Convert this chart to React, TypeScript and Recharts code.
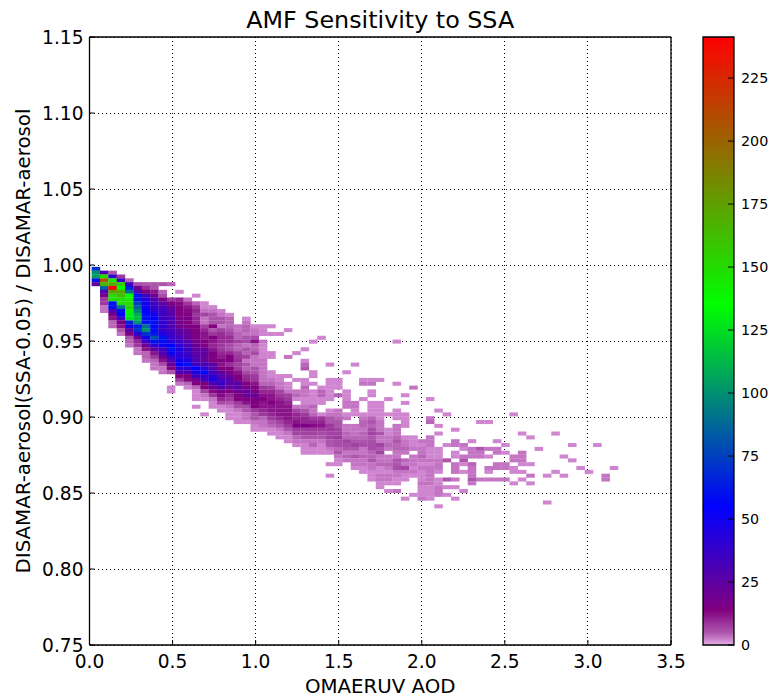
import { CartesianGrid, ReferenceArea, Scatter, ScatterChart, XAxis, YAxis } from "recharts";

const FONT = "'DejaVu Sans', sans-serif";
const WIDTH = 770;
const HEIGHT = 697;
const leftW = 89.5;
const rightW = 99;
const topH = 37;
const bottomH = 52;

const xTicks = [0, 0.5, 1, 1.5, 2, 2.5, 3, 3.5];
const yTicks = [0.75, 0.8, 0.85, 0.9, 0.95, 1, 1.05, 1.1, 1.15];
const colorbarTicks = [0, 25, 50, 75, 100, 125, 150, 175, 200, 225];
const colorbarMax = 241.3;

// histogram bins
const binWidth = 0.0503;
const binHeight = 0.00252;
const firstBinX = 0.0129;
const firstBinTop = 0.9988;

// per column: runs of [first row, count, count, ...]
const binRuns: number[][][] = [
  [[0, 70, 100, 105, 60, 25]],
  [[1, 30, 150, 205, 165, 85, 30, 18, 8, 8, 3, 3]],
  [[1, 5, 40, 145, 170, 240, 175, 150, 150, 60, 60, 30, 15, 12, 4, 4]],
  [[2, 8, 35, 155, 135, 170, 165, 150, 150, 90, 60, 55, 35, 15, 12, 5, 3]],
  [[3, 4, 35, 65, 90, 135, 145, 150, 155, 140, 130, 125, 65, 45, 25, 15, 5, 4, 3]],
  [[4, 6, 20, 30, 60, 60, 75, 85, 95, 110, 115, 100, 65, 70, 40, 20, 10, 8, 3, 3]],
  [[4, 5, 9, 15, 35, 45, 50, 50, 55, 58, 60, 60, 90, 100, 70, 50, 35, 20, 12, 4, 4, 3]],
  [[4, 5, 5, 12, 20, 30, 35, 38, 42, 50, 55, 60, 58, 60, 62, 80, 60, 40, 25, 12, 8, 4, 3, 3]],
  [[4, 5], [6, 4, 6, 15, 25, 30, 35, 35, 35, 40, 40, 38, 45, 60, 60, 50, 35, 30, 20, 12, 6, 3, 3]],
  [[4, 4], [8, 8, 15, 22, 25, 28, 32, 30, 30, 32, 36, 38, 42, 55, 60, 50, 40, 30, 22, 14, 5], [31, 2, 2]],
  [[6, 2], [8, 10, 13, 14, 14, 14, 16, 18, 20, 25, 28, 32, 35, 40, 45, 42, 42, 50, 55, 40, 30, 14, 8, 3]],
  [[8, 3, 8, 12, 13, 14, 16, 14, 15, 20, 22, 22, 28, 32, 35, 35, 38, 45, 60, 42, 30, 15, 13, 4, 2]],
  [[7, 2], [9, 4, 8, 10, 8, 10, 10, 14, 14, 15, 16, 18, 22, 24, 26, 28, 30, 35, 55, 45, 35, 18, 14, 4, 2, 2, 2], [36, 2]],
  [[9, 2, 2, 3, 7, 3, 3, 7, 10, 12, 12, 14, 14, 22, 24, 22, 24, 30, 40, 58, 38, 32, 15, 14, 7, 3, 2], [38, 2]],
  [[10, 2, 3, 5, 5, 5, 14, 5, 8, 14, 12, 10, 12, 15, 15, 14, 25, 28, 32, 40, 45, 30, 20, 13, 8, 3, 2, 2]],
  [[11, 2, 3, 5, 5, 3, 7, 9, 10, 9, 8, 8, 10, 11, 14, 12, 14, 24, 28, 32, 38, 28, 18, 13, 10, 6, 2, 2]],
  [[12, 2, 4, 4, 4, 5, 7, 9, 9, 6, 6, 10, 14, 15, 9, 14, 15, 22, 28, 26, 22, 14, 10, 8, 5, 3, 2, 2, 2]],
  [[15, 3, 3, 4, 4, 7, 4, 4, 7, 8, 9, 7, 8, 12, 14, 16, 28, 26, 20, 14, 14, 8, 6, 3, 2, 2, 2]],
  [[13, 2, 3, 4, 4, 3, 5, 6, 3, 5, 4, 7, 3, 5, 4, 6, 9, 10, 14, 18, 22, 22, 14, 12, 6, 5, 3, 3, 2]],
  [[15, 2, 3, 3, 6, 12, 4, 4, 6, 3, 3, 3, 5, 5, 8, 8, 12, 14, 16, 22, 16, 14, 14, 8, 5, 5, 3, 2, 2]],
  [[15, 2, 2, 2], [19, 3, 2, 2, 2, 2, 3, 3, 3, 3, 3, 3, 4, 8, 10, 12, 14, 12, 12, 10, 8, 4, 3, 3, 2]],
  [[15, 2], [17, 2], [22, 2, 2], [27, 2, 2, 3, 4, 7, 10, 12, 12, 14, 12, 12, 10, 8, 5, 4, 2, 2]],
  [[17, 2], [28, 2, 2, 3, 3, 7, 8, 10, 12, 12, 12, 12, 10, 7, 5, 3, 2, 2]],
  [[16, 2], [23, 3], [28, 2], [30, 2, 2, 3, 7, 8, 10, 12, 12, 12, 12, 10, 8, 5, 3, 2, 2]],
  [[22, 2], [29, 2], [32, 3, 4, 2], [36, 3, 7, 10, 10, 12, 15, 8, 7, 4, 3, 2]],
  [[21, 2], [24, 2, 4, 5], [29, 2, 2, 4, 3, 3, 2, 2, 3, 5, 8, 10, 10, 16, 8, 7, 5, 3, 2, 2, 2]],
  [[19, 2], [27, 2, 2], [30, 2], [32, 2, 2, 2, 2, 4, 3, 4, 8, 10, 13, 8, 7, 5, 3, 4, 2, 2]],
  [[18, 2], [31, 2, 4, 4, 2, 2], [38, 2, 8, 10, 12, 8, 6, 5, 3, 2, 2, 2]],
  [[25, 2], [29, 2, 2, 2, 2, 2, 2], [37, 2, 3, 5, 5, 8, 8, 7, 7, 5, 5, 3, 2], [51, 2], [54, 2]],
  [[29, 2, 2, 2], [33, 4], [37, 3, 3, 4, 5, 5, 7, 7, 8, 6, 6, 4, 5, 3, 2, 2]],
  [[27, 2], [32, 2, 2, 2, 3, 3], [38, 2, 3], [41, 3, 3, 4, 4, 7, 6, 5, 3, 4, 3]],
  [[25, 2], [35, 3, 3, 2, 2], [41, 3, 3, 3, 4, 5, 7, 5, 3, 5, 3, 3, 2]],
  [[29, 2, 3], [34, 2], [38, 2, 3, 4, 4, 3, 4, 4, 5, 6, 3, 3, 4, 3, 3, 2, 2]],
  [[29, 2, 3], [32, 2, 2], [35, 2, 2, 2, 2, 4, 5, 4, 6, 7, 5, 6, 6, 6, 4, 4, 5, 3, 3, 2, 2], [55, 2]],
  [[29, 2], [35, 2, 2, 2, 2, 2, 3, 3, 3, 5, 3, 3, 7, 5, 7, 3, 3, 4, 2, 2, 3, 3, 2, 2]],
  [[34, 2], [38, 2], [42, 2, 2, 3, 3, 4, 3], [49, 3, 3, 4, 3, 2, 3, 3, 2], [58, 2]],
  [[19, 2], [30, 2], [37, 2, 2, 2], [41, 3, 3, 3, 4, 5, 4, 4, 3, 3, 5, 5, 6, 3, 3, 2, 2], [58, 3]],
  [[33, 2], [35, 2], [38, 2, 2, 2, 2], [44, 2, 3, 3, 4, 3], [50, 4, 3, 7, 3, 2, 2], [60, 2]],
  [[31, 3], [44, 2, 2, 2, 3], [49, 3, 3, 3, 2, 3, 2], [59, 2]],
  [[45, 3, 2, 3, 3, 4, 3, 2, 3, 2, 2, 2, 3, 2, 2, 2, 3]],
  [[34, 2], [39, 3, 4], [44, 3, 3, 3, 2, 2, 2, 3, 2, 3, 3, 3, 3, 3, 2, 2, 2, 2]],
  [[37, 2], [41, 2], [43, 2], [47, 2, 2, 2, 3, 3, 3, 2], [55, 2, 2, 3, 3, 3], [62, 2]],
  [[38, 2], [46, 2], [50, 5], [55, 5], [57, 2], [59, 2]],
  [[42, 2], [45, 3, 3], [48, 2, 2], [51, 3, 3, 3], [55, 3], [57, 2], [60, 2]],
  [[46, 3, 2], [49, 3, 5, 2], [53, 2], [58, 2]],
  [[45, 2], [47, 3, 3, 3], [51, 4, 3, 3, 3, 5, 3]],
  [[40, 2], [47, 5, 3, 3], [55, 3]],
  [[40, 2], [47, 3], [49, 2], [52, 3, 2], [55, 3]],
  [[45, 2], [47, 3, 3], [51, 3, 3], [55, 3]],
  [[46, 2], [48, 2], [51, 3, 3], [55, 3]],
  [[38, 2], [49, 3, 3], [52, 2, 2], [56, 2]],
  [[43, 2], [48, 3, 3, 3, 2], [53, 2], [55, 2]],
  [[44, 2], [51, 2], [54, 3], [56, 2]],
  [[47, 2]],
  [[54, 2], [61, 2]],
  [[43, 2], [53, 2]],
  [[49, 2], [54, 2]],
  [[46, 2], [50, 2]],
  [[52, 2]],
  [[53, 2]],
  [[46, 2]],
  [[54, 3, 3]],
  [[52, 2]],
];

// colormap: [value, r, g, b]
const colorStops = [
  [0, 228, 180, 228],
  [2, 207, 133, 207],
  [5, 172, 85, 172],
  [14, 128, 0, 128],
  [55, 0, 0, 255],
  [135, 0, 255, 0],
  [241.3, 255, 0, 0],
];

function colorFor(v: number) {
  for (let i = 1; i < colorStops.length; i++) {
    const a = colorStops[i - 1];
    const b = colorStops[i];
    if (v <= b[0]) {
      const t = (v - a[0]) / (b[0] - a[0]);
      const c = [1, 2, 3].map((j) => Math.round(a[j] + (b[j] - a[j]) * t));
      return `rgb(${c[0]},${c[1]},${c[2]})`;
    }
  }
  return "rgb(255,0,0)";
}

const cells: { x: number; y: number; count: number }[] = [];
binRuns.forEach((runs, col) => {
  runs.forEach(([first, ...counts]) => {
    counts.forEach((count, i) => {
      cells.push({
        x: firstBinX + binWidth * (col + 0.5),
        y: firstBinTop - binHeight * (first + i + 0.5),
        count,
      });
    });
  });
});

const colorbarAnchors = colorbarTicks.map((v) => ({ x: 0.5, y: v }));

const plotW = WIDTH - leftW - rightW;
const plotH = HEIGHT - topH - bottomH;
const cellW = (binWidth / 3.5) * plotW;
const cellH = (binHeight / 0.4) * plotH;

function HeatCell(props: any) {
  const { cx, cy, payload } = props;
  return <rect x={cx - cellW / 2} y={cy - cellH / 2} width={cellW + 0.2} height={cellH + 0.2} fill={colorFor(payload.count)} />;
}

const BottomTick = ({ x, y, payload }: any) => (
  <g>
    <line x1={x} x2={x} y1={y} y2={y - 5} stroke="#000" />
    <text x={x} y={y + 23} textAnchor="middle" fontSize={18.6} fontFamily={FONT} fill="#000">
      {payload.value.toFixed(1)}
    </text>
  </g>
);
const TopTick = ({ x, y }: any) => <line x1={x} x2={x} y1={y} y2={y + 5} stroke="#000" />;
const LeftTick = ({ x, y, payload }: any) => (
  <g>
    <line x1={x} x2={x + 5} y1={y} y2={y} stroke="#000" />
    <text x={x - 6} y={y + 6.5} textAnchor="end" fontSize={18.6} fontFamily={FONT} fill="#000">
      {payload.value.toFixed(2)}
    </text>
  </g>
);
const RightTick = ({ x, y }: any) => <line x1={x} x2={x - 5} y1={y} y2={y} stroke="#000" />;
const ColorbarTick = ({ x, y, payload }: any) => (
  <g>
    <line x1={x} x2={x - 6} y1={y} y2={y} stroke="#000" />
    <text x={x + 7} y={y + 5} fontSize={14.3} fontFamily={FONT} fill="#000">
      {payload.value}
    </text>
  </g>
);

const axisLine = { stroke: "#000", strokeWidth: 1.3 };
const noMargin = { left: 0, right: 0, top: 0, bottom: 0 };

export default function App() {
  return (
    <div style={{ position: "absolute", left: 0, top: 0, width: WIDTH, height: HEIGHT, background: "#fff" }}>
      <div style={{ position: "absolute", left: 0, top: 0 }}>
        <ScatterChart width={WIDTH} height={HEIGHT} margin={noMargin}>
          <XAxis type="number" dataKey="x" domain={[0, 3.5]} ticks={xTicks} interval={0} height={bottomH} tick={BottomTick} tickLine={false} axisLine={axisLine} tickSize={0} tickMargin={0}
            label={{ value: "OMAERUV AOD", position: "insideBottom", offset: 4, fontSize: 19.8, fontFamily: FONT, fill: "#000" }} />
          <XAxis xAxisId="top" orientation="top" type="number" domain={[0, 3.5]} ticks={xTicks} interval={0} height={topH} tick={TopTick} tickLine={false} axisLine={axisLine} tickSize={0} tickMargin={0}
            label={{ value: "AMF Sensitivity to SSA", position: "insideTop", offset: 11, fontSize: 23.8, fontFamily: FONT, fill: "#000" }} />
          <YAxis type="number" dataKey="y" domain={[0.75, 1.15]} ticks={yTicks} interval={0} width={leftW} tick={LeftTick} tickLine={false} axisLine={axisLine} tickSize={0} tickMargin={0}
            label={{ value: "DISAMAR-aerosol(SSA-0.05) / DISAMAR-aerosol", angle: -90, position: "insideLeft", offset: 23, fontSize: 19.8, fontFamily: FONT, fill: "#000", style: { textAnchor: "middle" } }} />
          <YAxis yAxisId="right" orientation="right" type="number" domain={[0.75, 1.15]} ticks={yTicks} interval={0} width={rightW} tick={RightTick} tickLine={false} axisLine={axisLine} tickSize={0} tickMargin={0} />
          <Scatter data={cells} shape={HeatCell} isAnimationActive={false} />
          <CartesianGrid stroke="#000" strokeDasharray="1 3" shapeRendering="crispEdges" />
        </ScatterChart>
      </div>
      <div style={{ position: "absolute", left: 0, top: 0 }}>
        <ScatterChart width={WIDTH} height={HEIGHT} margin={{ left: 703, right: 0, top: topH, bottom: 0 }}>
          <defs>
            <linearGradient id="cbar" x1="0" y1="1" x2="0" y2="0">
              {colorStops.map((s) => (
                <stop key={s[0]} offset={s[0] / colorbarMax} stopColor={`rgb(${s[1]},${s[2]},${s[3]})`} />
              ))}
            </linearGradient>
          </defs>
          <XAxis type="number" dataKey="x" domain={[0, 1]} height={bottomH} tick={false} axisLine={false} tickLine={false} />
          <YAxis orientation="right" type="number" dataKey="y" domain={[0, colorbarMax]} ticks={colorbarTicks} interval={0} width={36} tick={ColorbarTick} tickLine={false} axisLine={false} tickSize={0} tickMargin={0} />
          <ReferenceArea x1={0} x2={1} y1={0} y2={colorbarMax} fill="url(#cbar)" fillOpacity={1} stroke="#000" strokeWidth={1.3} ifOverflow="visible" />
          <Scatter data={colorbarAnchors} shape={() => null} isAnimationActive={false} />
        </ScatterChart>
      </div>
    </div>
  );
}
